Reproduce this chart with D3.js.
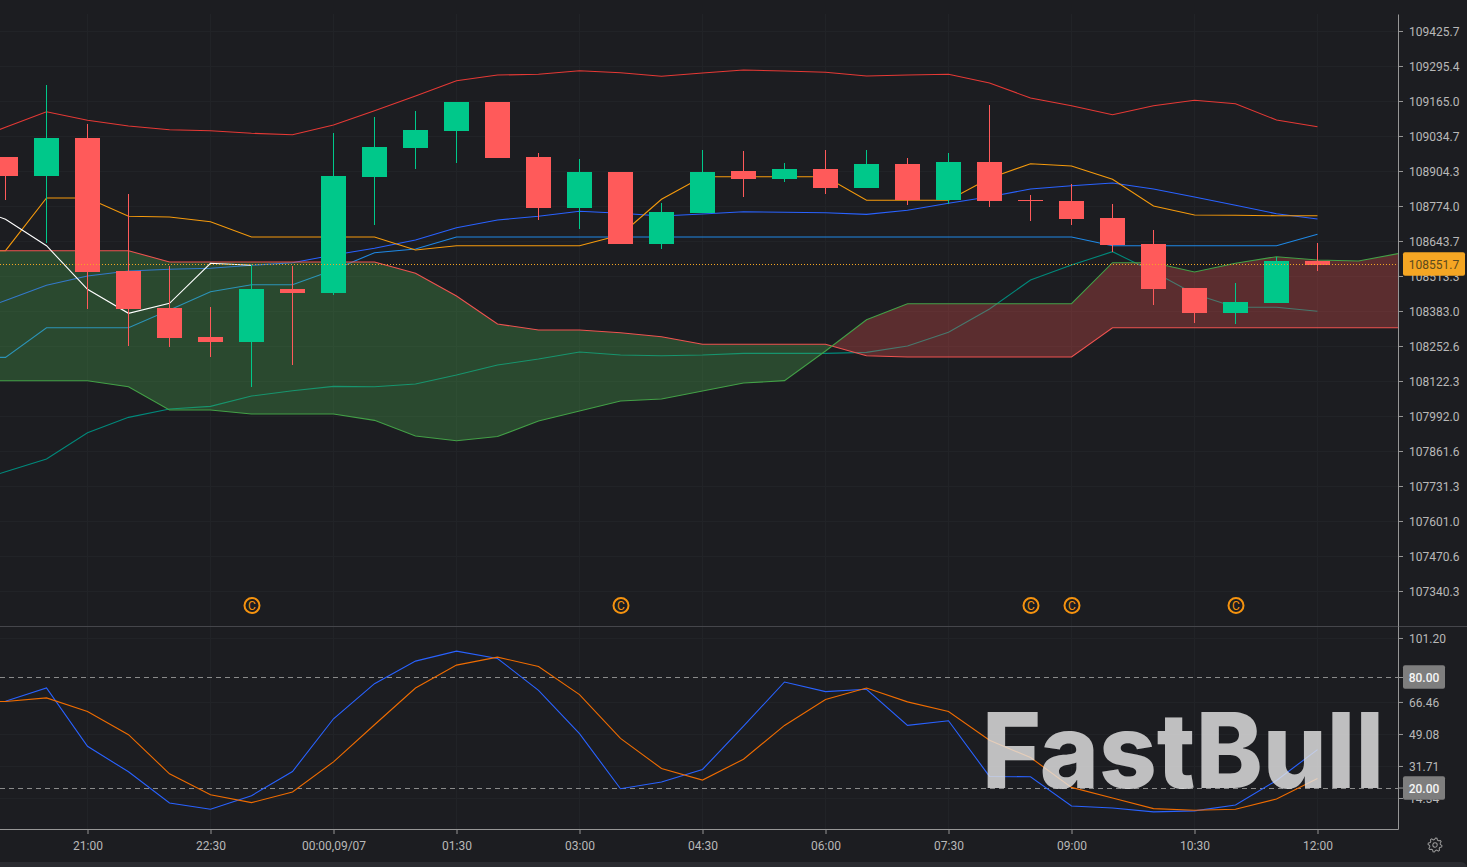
<!DOCTYPE html>
<html>
<head>
<meta charset="utf-8">
<script src="https://cdn.jsdelivr.net/npm/d3@7/dist/d3.min.js"></script>
<style>
html,body{margin:0;padding:0;background:#1c1d21;overflow:hidden}
svg{display:block}
text{font-family:Roboto,sans-serif}
</style>
</head>
<body>
<svg id="chart" width="1467" height="867"></svg>
<script>
// ---------- data ----------
const times = ["20:00","20:30","21:00","21:30","22:00","22:30","23:00","23:30","00:00,09/07","00:30","01:00","01:30","02:00","02:30","03:00","03:30","04:00","04:30","05:00","05:30","06:00","06:30","07:00","07:30","08:00","08:30","09:00","09:30","10:00","10:30","11:00","11:30","12:00"];
const labelledBars = [2,5,8,11,14,17,20,23,26,29,32];
const priceTicks = [109425.7,109295.4,109165.0,109034.7,108904.3,108774.0,108643.7,108513.3,108383.0,108252.6,108122.3,107992.0,107861.6,107731.3,107601.0,107470.6,107340.3];
const stochTicks = [101.20,66.46,49.08,31.71,14.34];
const stochLevels = [80,20];
const lastPriceLabel = "108551.7";
const lastPriceLine = 108556.5;
const dividendBars = [6,15,25,26,30];

const opens = [108956.5,108885.7,109027.2,108532.0,108394.1,108286.2,108267.6,108465.0,108450.1,108882.0,108990.0,109053.3,109161.3,108956.5,108766.5,108900.6,108632.4,108747.9,108904.3,108874.6,108911.8,108841.0,108930.4,108796.3,108937.9,108796.3,108792.6,108729.3,108632.4,108468.7,108375.5,108412.7,108569.1];
const closes = [108885.7,109027.2,108528.3,108390.4,108282.4,108267.6,108465.0,108450.1,108885.7,108993.7,109057.0,109161.3,108952.8,108766.5,108900.6,108632.4,108751.6,108900.6,108874.6,108911.8,108841.0,108930.4,108796.3,108937.9,108792.6,108792.6,108725.6,108628.7,108465.0,108375.5,108416.4,108569.1,108554.3];
const highs = [108956.5,109224.6,109079.4,108818.7,108550.6,108397.8,108554.3,108550.6,109045.8,109105.4,109127.7,109161.3,109161.3,108971.4,108949.0,108900.6,108785.1,108982.5,108978.8,108934.2,108982.5,108982.5,108952.8,108971.4,109150.1,108815.0,108855.9,108781.4,108684.6,108468.7,108487.3,108584.0,108636.2];
const lows = [108796.3,108636.2,108390.4,108252.7,108249.0,108211.7,108099.8,108181.9,108442.5,108703.2,108911.8,108934.2,108952.8,108721.8,108688.3,108632.4,108613.8,108747.9,108807.5,108863.4,108818.7,108841.0,108777.7,108781.4,108770.2,108718.1,108703.2,108602.7,108405.3,108338.3,108334.6,108412.7,108532.0];

// overlays start one bar before the first candle
const bbUpper = [109009.3,109067.4,109125.1,109093.1,109071.9,109058.1,109054.4,109044.7,109039.5,109075.6,109128.8,109183.6,109240.6,109261.8,109264.4,109277.8,109270.4,109257.0,109269.3,109280.4,109276.7,109271.9,109258.1,109261.8,109264.4,109232.0,109176.1,109147.5,109114.0,109147.5,109167.6,109154.9,109094.2,109069.3];
const bbMiddle = [108368.0,108421.7,108478.6,108513.3,108531.9,108538.2,108542.0,108553.1,108562.8,108591.5,108616.4,108647.4,108693.1,108721.8,108735.6,108754.2,108746.8,108736.7,108744.2,108752.7,108750.5,108749.0,108743.0,108757.9,108784.0,108808.6,108837.3,108849.6,108859.6,108837.3,108807.5,108776.6,108745.3,108725.5];
const bbLower = [107734.9,107784.4,107831.7,107929.6,107987.0,108017.9,108027.9,108066.3,108086.0,108102.4,108100.9,108111.0,108144.5,108181.8,108204.1,108230.2,108219.0,108216.4,108219.0,108225.3,108225.3,108225.3,108229.0,108252.5,108303.5,108390.4,108498.4,108554.3,108603.8,108529.3,108446.2,108396.7,108396.7,108381.8];
const tenkan = [108210.4,108210.4,108320.7,108320.7,108320.7,108386.6,108454.8,108480.9,108480.9,108535.6,108600.1,108613.8,108658.5,108658.5,108658.5,108658.5,108658.5,108658.5,108658.5,108658.5,108658.5,108658.5,108658.5,108658.5,108658.5,108658.5,108658.5,108658.5,108626.1,108626.1,108626.1,108626.1,108626.1,108668.6];
const kijun = [108607.5,108607.5,108803.7,108803.7,108735.6,108733.0,108715.5,108658.5,108658.5,108658.5,108658.5,108610.1,108626.1,108626.1,108626.1,108626.1,108666.0,108798.9,108883.1,108883.1,108883.1,108883.1,108795.2,108795.2,108795.2,108877.1,108931.5,108922.9,108873.4,108774.0,108740.4,108739.3,108737.8,108737.8];
const chikou = [108781.4,108724.4,108626.1,108463.7,108374.4,108411.6,108560.6,108553.1];
// cloud runs two bars past the last candle
const spanRed = [108607.5,108607.5,108607.5,108607.5,108607.5,108565.4,108565.4,108565.4,108565.4,108565.4,108565.4,108523.3,108438.8,108334.5,108312.2,108312.2,108302.1,108287.2,108258.9,108258.9,108258.9,108258.9,108216.4,108211.6,108211.6,108211.6,108211.6,108211.6,108320.7,108320.7,108320.7,108320.7,108320.7,108320.7,108320.7,108320.7];
const spanGreen = [108123.3,108123.3,108123.3,108123.3,108100.9,108014.2,108014.2,107999.3,107999.3,107999.3,107975.8,107917.3,107899.8,107915.5,107973.2,108010.4,108047.7,108055.1,108084.9,108114.7,108123.7,108234.0,108350.5,108410.1,108410.1,108410.1,108410.1,108410.1,108562.8,108562.8,108528.2,108560.6,108585.2,108572.9,108569.1,108597.8];

const stochK = [65.97,66.86,74.06,42.40,28.55,11.64,8.22,15.59,28.73,57.33,76.40,88.63,94.03,90.07,72.80,49.23,19.37,22.97,29.81,53.37,77.30,72.08,73.34,53.73,56.25,26.03,25.85,10.02,8.94,6.78,7.32,10.56,23.87,40.60];
const stochD = [67.05,66.68,68.66,61.29,48.69,27.47,16.13,11.82,17.57,33.94,54.09,74.06,86.47,90.79,85.75,70.46,46.72,30.34,24.05,35.38,53.73,67.76,74.06,66.50,61.29,45.64,36.28,20.09,14.33,8.58,7.68,8.22,13.79,24.95];

// ---------- styles ----------
const BG="#1c1d21", GRID="#212327", AXIS="#969696", LABEL="#b8b8b8", UP="#00c88a", DOWN="#ff5a5a", ORANGE="#f5a623";
const LW=1.1;

const svg = d3.select("#chart");
const defs = svg.append("defs");
const paneRight=1398, mainTop=14, mainBottom=626, subBottom=829;

const x = d3.scaleLinear().domain([0,32]).range([5.5,1317.5]);
const y = d3.scaleLinear().domain([109489.0,107209.95]).range([mainTop,mainBottom]);
const yS = d3.scaleLinear().domain([107.7,-2.5]).range([mainBottom,subBottom]);

defs.append("clipPath").attr("id","main").append("rect").attr("width",paneRight).attr("y",mainTop).attr("height",mainBottom-mainTop);
defs.append("clipPath").attr("id","sub").append("rect").attr("width",paneRight).attr("y",mainBottom).attr("height",subBottom-mainBottom);

// grid
const grid = svg.append("g").attr("stroke",GRID).attr("shape-rendering","crispEdges");
grid.selectAll(".h").data(priceTicks).join("line").attr("x1",0).attr("x2",paneRight).attr("y1",d=>Math.round(y(d))+.5).attr("y2",d=>Math.round(y(d))+.5);
grid.selectAll(".s").data(stochTicks).join("line").attr("x1",0).attr("x2",paneRight).attr("y1",d=>Math.round(yS(d))+.5).attr("y2",d=>Math.round(yS(d))+.5);
grid.selectAll(".v").data(labelledBars).join("line").attr("x1",d=>x(d)).attr("x2",d=>x(d)).attr("y1",mainTop).attr("y2",subBottom);

const main = svg.append("g").attr("clip-path","url(#main)");
const lineFrom = (offset,scale)=>d3.line().x((d,i)=>x(i+offset)).y(d=>scale(d));
const drawLine=(g,data,color,scale=y,offset=-1,w=LW)=>g.append("path").attr("d",lineFrom(offset,scale)(data)).attr("fill","none").attr("stroke",color).attr("stroke-width",w);

drawLine(main,bbUpper,"#e53935");
drawLine(main,bbMiddle,"#2962ff");
drawLine(main,bbLower,"#00897b");
drawLine(main,tenkan,"#1e88e5");
drawLine(main,kijun,"#f59a0c");

// cloud: green where the red span lies above the green span, red otherwise
const cx=(d,i)=>x(i-1);
const areaTo=(vals,edge)=>d3.area().x(cx).y0(edge).y1((d,i)=>y(vals[i]));
defs.append("clipPath").attr("id","belowRed").append("path").attr("d",areaTo(spanRed,mainBottom)(spanRed));
defs.append("clipPath").attr("id","belowGreen").append("path").attr("d",areaTo(spanGreen,mainBottom)(spanGreen));
main.append("g").attr("clip-path","url(#belowRed)").append("path").attr("d",areaTo(spanGreen,mainTop)(spanGreen)).attr("fill","#4caf50").attr("fill-opacity",.3);
main.append("g").attr("clip-path","url(#belowGreen)").append("path").attr("d",areaTo(spanRed,mainTop)(spanRed)).attr("fill","#ef5350").attr("fill-opacity",.3);
drawLine(main,spanRed,"#ef5350");
drawLine(main,spanGreen,"#43a047");
drawLine(main,chikou,"#ffffff");

// candles
const candles = times.map((t,i)=>({i,o:opens[i],h:highs[i],l:lows[i],c:closes[i]}));
const cg = main.selectAll(".candle").data(candles).join("g").attr("fill",d=>d.c>=d.o&&d.i!==25?UP:DOWN);
cg.append("rect").attr("x",d=>x(d.i)-.5).attr("width",1).attr("y",d=>Math.round(y(d.h))).attr("height",d=>Math.max(0,Math.round(y(d.l))-Math.round(y(d.h))));
cg.append("rect").attr("x",d=>x(d.i)-12.5).attr("width",25).attr("y",d=>Math.round(y(Math.max(d.o,d.c)))).attr("height",d=>Math.max(1,Math.round(y(Math.min(d.o,d.c)))-Math.round(y(Math.max(d.o,d.c)))));

// dividend markers
const marks = main.selectAll(".mark").data(dividendBars).join("g").attr("transform",d=>`translate(${x(d)+.5},605.5)`);
marks.append("circle").attr("r",7.5).attr("fill","none").attr("stroke","#f5930f").attr("stroke-width",2);
marks.append("text").text("C").attr("text-anchor","middle").attr("dy","0.36em").attr("font-size",12).attr("fill","#f5930f");

// last price line
const lastY=Math.round(y(lastPriceLine))+.5;
svg.append("line").attr("x1",0).attr("x2",paneRight).attr("y1",lastY).attr("y2",lastY).attr("stroke",ORANGE).attr("stroke-dasharray","1 2").attr("shape-rendering","crispEdges");

// pane separators
svg.append("line").attr("x1",0).attr("x2",1467).attr("y1",626.5).attr("y2",626.5).attr("stroke","#45464b");

// stochastic pane
const sub = svg.append("g").attr("clip-path","url(#sub)");
sub.selectAll(".lvl").data(stochLevels).join("line").attr("x1",0).attr("x2",paneRight).attr("y1",d=>Math.round(yS(d))+.5).attr("y2",d=>Math.round(yS(d))+.5).attr("stroke","#8a8a8a").attr("stroke-dasharray","5 4");
drawLine(sub,stochK,"#2962ff",yS);
drawLine(sub,stochD,"#ef6c00",yS);

// watermark
svg.append("text").text("FastBull").attr("x",982).attr("y",788).attr("textLength",402).attr("lengthAdjust","spacingAndGlyphs")
  .attr("font-weight",800).attr("font-size",104).attr("fill","#e3e3e3").attr("fill-opacity",.82).style("font-family","Inter, sans-serif");

// labels: set at 12px for their width, then taller glyphs in that same width
const tallText = sel=>sel.each(function(){
  const w=this.getComputedTextLength();
  d3.select(this).attr("font-size",13.5).attr("textLength",w).attr("lengthAdjust","spacingAndGlyphs");
});

// axes
const styleAxis = g=>{g.selectAll("path,line").attr("stroke",AXIS);g.selectAll("text").attr("fill",LABEL).attr("font-size",12).attr("font-family","Roboto, sans-serif").call(tallText);};
svg.append("g").attr("transform",`translate(${paneRight},0)`).call(d3.axisRight(y).tickValues(priceTicks).tickFormat(d3.format(".1f")).tickSize(5).tickPadding(6).tickSizeOuter(0)).call(styleAxis);
svg.append("g").attr("transform",`translate(${paneRight},0)`).call(d3.axisRight(yS).tickValues(stochTicks.concat(stochLevels)).tickFormat(d3.format(".2f")).tickSize(5).tickPadding(6).tickSizeOuter(0)).call(styleAxis);
svg.append("g").attr("transform",`translate(0,${subBottom})`).call(d3.axisBottom(x).tickValues(labelledBars).tickFormat(i=>times[i]).tickSize(5).tickPadding(6).tickSizeOuter(0)).call(styleAxis).call(g=>g.select(".domain").remove());
svg.append("line").attr("x1",0).attr("x2",paneRight+.5).attr("y1",subBottom+.5).attr("y2",subBottom+.5).attr("stroke",AXIS);

// level tags
const tag=(val,scale,w,fill,color,label,weight)=>{
  const g=svg.append("g").attr("transform",`translate(1403,${Math.round(scale(val))})`);
  g.append("rect").attr("y",-11.7).attr("width",w).attr("height",23.5).attr("rx",2).attr("fill",fill);
  g.append("text").text(label).attr("x",w/2).attr("text-anchor","middle").attr("dy","0.35em").attr("font-size",12).attr("font-weight",weight).attr("fill",color).call(tallText);
};
stochLevels.forEach(v=>tag(v,yS,42,"#7e7e7e","#f5f5f5",d3.format(".2f")(v),500));
tag(lastPriceLine,y,62,ORANGE,"#5c4a1e",lastPriceLabel,400);

// settings gear
const gearR=d3.range(32).map(k=>[k*Math.PI/16,k%4<2?7:5.4]);
const gear=svg.append("g").attr("transform","translate(1435,845) rotate(5)").attr("fill","none").attr("stroke","#9a9a9a");
gear.append("path").attr("d",d3.lineRadial().curve(d3.curveLinearClosed)(gearR));
gear.append("circle").attr("r",2.2);

// bottom strip
svg.append("rect").attr("x",-8).attr("y",862).attr("width",1475).attr("height",16).attr("rx",6).attr("fill","#2a2b30");
</script>
</body>
</html>
